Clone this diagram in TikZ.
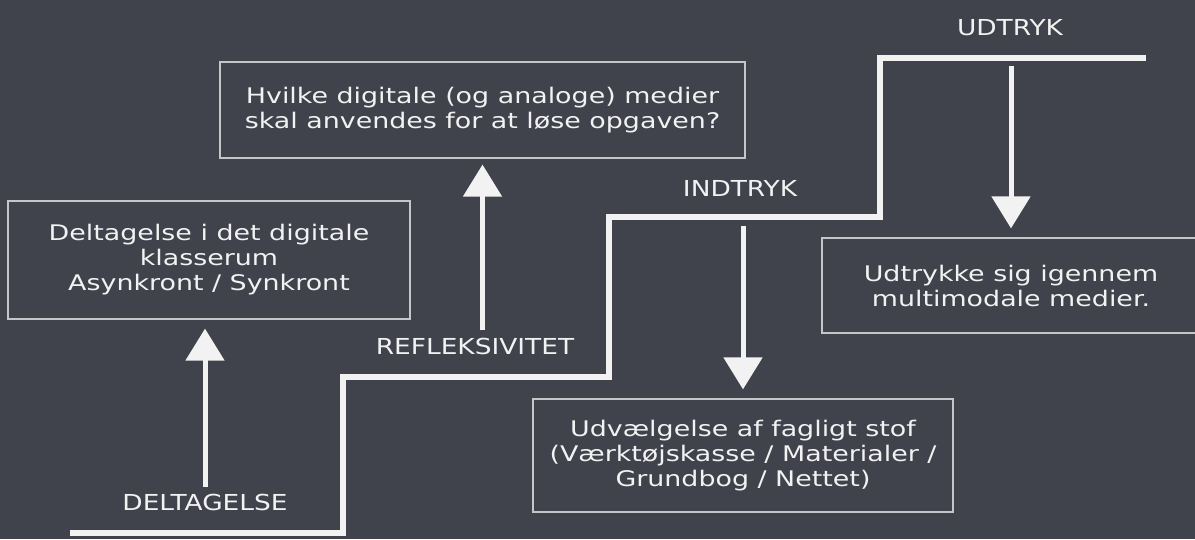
\documentclass[tikz,border=0pt]{standalone}
\usepackage{fontspec}
\setmainfont{DejaVu Sans}
\usetikzlibrary{arrows.meta}

\definecolor{board}{HTML}{41434C}
\definecolor{chalk}{HTML}{F2F2F2}
\definecolor{frame}{HTML}{C6C6C8}

\begin{document}
\begin{tikzpicture}[x=1pt,y=-1pt,
    every node/.style={text=chalk,align=center,
        font=\addfontfeature{FakeStretch=1.25}\fontsize{21.5}{25}\selectfont},
    box/.style={draw=frame,line width=1.2pt,inner sep=0pt},
    tag/.style={font=\addfontfeature{FakeStretch=1.2}\fontsize{22}{24}\selectfont},
    stair/.style={draw=chalk,line width=6pt,line join=miter},
    pointer/.style={draw=chalk,line width=5pt,-{Triangle[width=38pt,length=32pt]}}]

    \fill[board] (0,0) rectangle (1195,539);
    \useasboundingbox (0,0) rectangle (1195,539);

    % boxes
    \node[box,minimum width=402pt,minimum height=118pt] (B1) at (209,260)
        {Deltagelse i det digitale\\klasserum\\Asynkront / Synkront};
    \node[box,minimum width=525pt,minimum height=96pt] (B2) at (482.5,110)
        {Hvilke digitale (og analoge) medier\\skal anvendes for at løse opgaven?};
    \node[box,minimum width=420pt,minimum height=113pt] (B3) at (743,455.5)
        {Udvælgelse af fagligt stof\\(Værktøjskasse / Materialer /\\Grundbog / Nettet)};
    \node[box,minimum width=378pt,minimum height=95pt] (B4) at (1011,285.5)
        {Udtrykke sig igennem\\multimodale medier.};

    % labels
    \node[tag] (deltagelse) at (205,502) {DELTAGELSE};
    \node[tag] (refleksivitet) at (475,346) {REFLEKSIVITET};
    \node[tag] (indtryk) at (740,188) {INDTRYK};
    \node[tag] (udtryk) at (1010,28) {UDTRYK};

    % staircase
    \coordinate (s0) at (70,533);
    \coordinate (s1) at (343,377);
    \coordinate (s2) at (609,217);
    \coordinate (s3) at (880,58);
    \coordinate (s4) at (1146,58);
    \draw[stair] (s0) -| (s1) -| (s2) -| (s3) -- (s4);

    % arrows
    \draw[pointer,shorten <=3pt,shorten >=9pt]
        (deltagelse.north) -- (deltagelse.north |- B1.south);
    \draw[pointer,shorten <=4pt,shorten >=6pt]
        (B2.south |- refleksivitet.north) -- (B2.south);
    \draw[pointer,shorten <=26pt,shorten >=9pt]
        (B3.north |- indtryk.south) -- (B3.north);
    \draw[pointer,shorten <=26pt,shorten >=9pt]
        (B4.north |- udtryk.south) -- (B4.north);
\end{tikzpicture}
\end{document}
